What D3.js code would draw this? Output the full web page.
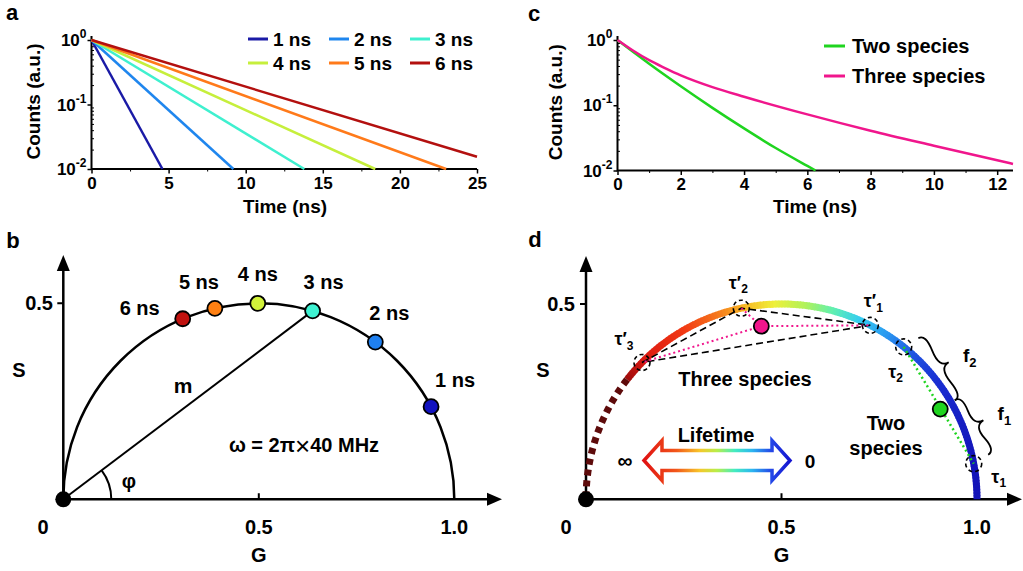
<!DOCTYPE html>
<html>
<head>
<meta charset="utf-8">
<script src="https://cdn.jsdelivr.net/npm/d3@7"></script>
<style>
  body { margin: 0; background: #fff; }
  svg { display: block; font-family: Arial, "Liberation Sans", sans-serif; font-weight: bold; }
</style>
</head>
<body>
<svg id="fig" width="1023" height="571"></svg>
<script>
// ---- panel a : single exponential decays (straight on log axis, so end points are enough)
const decayLabels = ['1 ns', '2 ns', '3 ns', '4 ns', '5 ns', '6 ns'];
const decayEndTime = [4.6, 9.2, 13.8, 18.4, 23.0, 25];
const decayEndCounts = [0.01, 0.01, 0.01, 0.01, 0.01, 0.0155];
const timeTicksA = [0, 5, 10, 15, 20, 25];
const countTicks = [0.01, 0.1, 1];

// ---- panel c : mixtures
const twoTime = [0, 0.5, 1, 2, 3, 4, 5, 6, 6.26];
const twoCounts = [1, 0.653, 0.431, 0.195, 0.0912, 0.0442, 0.0221, 0.01175, 0.01];
const threeTime = [0, 0.5, 1, 1.5, 2, 3, 4, 6, 8, 10, 12.5];
const threeCounts = [1, 0.684, 0.49, 0.372, 0.288, 0.19, 0.135, 0.0724, 0.0407, 0.024, 0.0126];
const timeTicksC = [0, 2, 4, 6, 8, 10, 12];
const mixLabels = ['Two species', 'Three species'];

// ---- panel b : phasor positions of the single lifetimes
const phasorG = [0.9406, 0.798, 0.6376, 0.4974, 0.3877, 0.3054];
const phasorS = [0.2364, 0.401, 0.4807, 0.5, 0.4872, 0.4606];

// ---- panel d : components and mixtures
const compNames = ['τ', 'τ', 'τ′', 'τ′', 'τ′'];
const compSubs = ['1', '2', '1', '2', '3'];
const compG = [0.9916, 0.8125, 0.7271, 0.3972, 0.1432];
const compS = [0.0913, 0.3903, 0.4454, 0.4893, 0.3503];
const mixG = [0.906, 0.4484];
const mixS = [0.231, 0.4432];

const jet = ['#1a1aa6', '#1f86ee', '#3ff0cf', '#c6ef3c', '#ff7a1a', '#b3100f'];
const dotJet = ['#1212c0', '#1f80f0', '#3ef2d2', '#d2f23a', '#ff8012', '#c0120f'];
const mixColors = ['#1fd41f', '#f0168c'];

const svg = d3.select('#fig');

function label(g, x, y, s, size, anchor) {
  return g.append('text')
    .attr('x', x).attr('y', y)
    .attr('font-size', size)
    .attr('text-anchor', anchor || 'middle')
    .attr('dominant-baseline', 'central')
    .text(s);
}

function withIndex(g, x, y, base, idx, size) {
  const t = label(g, x, y, base, size);
  t.append('tspan')
    .attr('font-size', Math.round(size * 0.68))
    .attr('dy', size * 0.35)
    .text(idx);
  return t;
}

// panel letters
[['a', 12, 12], ['b', 13, 240], ['c', 534, 13], ['d', 535, 239]].forEach(p => {
  label(svg, p[1], p[2], p[0], 22);
});

// ------------------------------------------------------------ decay panels
function decayPanel(x, y, major, minor, titleX, countX) {
  const g = svg.append('g');
  const [x0, x1] = x.range();
  const yb = y.range()[0];

  g.append('g')
    .attr('transform', `translate(0,${yb})`)
    .call(d3.axisBottom(x).tickValues(minor).tickSize(2.5).tickFormat(''))
    .call(a => a.select('.domain').remove());

  g.append('g')
    .attr('transform', `translate(0,${yb})`)
    .call(d3.axisBottom(x).tickValues(major).tickSize(4.5).tickPadding(3).tickSizeOuter(0))
    .call(a => a.select('.domain').remove())
    .call(a => a.selectAll('line').attr('stroke-width', 1.5))
    .attr('font-family', null)
    .attr('font-size', 17)
    .call(a => a.selectAll('text').attr('fill', '#000'));

  const minorY = [];
  [0.01, 0.1].forEach(d => { for (let k = 2; k < 10; k++) minorY.push(d * k); });
  g.append('g')
    .attr('transform', `translate(${x0},0)`)
    .call(d3.axisRight(y).tickValues(minorY).tickSize(2.5).tickFormat(''))
    .call(a => a.select('.domain').remove());
  g.append('g')
    .attr('transform', `translate(${x0},0)`)
    .call(d3.axisLeft(y).tickValues(countTicks).tickSize(4).tickFormat(''))
    .call(a => a.select('.domain').remove())
    .call(a => a.selectAll('line').attr('stroke-width', 1.5));

  countTicks.forEach(v => {
    const t = g.append('text')
      .attr('x', x0 - 5).attr('y', y(v) + 6)
      .attr('font-size', 17).attr('text-anchor', 'end')
      .text('10');
    t.append('tspan').attr('font-size', 12).attr('dy', -8)
      .text(String(Math.round(Math.log10(v))));
  });

  g.append('path')
    .attr('d', `M${x0},${y.range()[1] - 4}V${yb}H${x1}`)
    .attr('fill', 'none').attr('stroke', '#000').attr('stroke-width', 2);

  label(g, titleX, 206, 'Time (ns)', 19);
  label(g, 0, 0, 'Counts (a.u.)', 19)
    .attr('transform', `translate(${countX},${(yb + y.range()[1]) / 2 - 3}) rotate(-90)`);
  return g;
}

// panel a
const xA = d3.scaleLinear().domain([0, 25]).range([91.5, 477]);
const yA = d3.scaleLog().domain([0.01, 1]).range([169, 40]);
const gA = decayPanel(xA, yA, timeTicksA, d3.range(2.5, 25, 5), 285, 33);
const lineA = d3.line().x(d => xA(d[0])).y(d => yA(d[1]));
decayLabels.forEach((name, i) => {
  gA.append('path')
    .attr('d', lineA([[0, 1], [decayEndTime[i], decayEndCounts[i]]]))
    .attr('fill', 'none').attr('stroke', jet[i]).attr('stroke-width', 2.5);
  const lx = 248 + (i % 3) * 81, ly = 39 + Math.floor(i / 3) * 24;
  gA.append('line').attr('x1', lx).attr('x2', lx + 20).attr('y1', ly).attr('y2', ly)
    .attr('stroke', jet[i]).attr('stroke-width', 3);
  label(gA, lx + 25, ly, name, 19, 'start');
});

// panel c
const xC = d3.scaleLinear().domain([0, 12.5]).range([617.5, 1013]);
const yC = d3.scaleLog().domain([0.01, 1]).range([170.5, 40]);
const gC = decayPanel(xC, yC, timeTicksC, d3.range(1, 13, 2), 815, 555);
const lineC = d3.line().x(d => xC(d[0])).y(d => yC(d[1])).curve(d3.curveMonotoneX);
[[twoTime, twoCounts], [threeTime, threeCounts]].forEach((s, i) => {
  gC.append('path')
    .attr('d', lineC(s[0].map((t, k) => [t, s[1][k]])))
    .attr('fill', 'none').attr('stroke', mixColors[i]).attr('stroke-width', 2.5);
  const ly = 46 + i * 30;
  gC.append('line').attr('x1', 824).attr('x2', 845).attr('y1', ly).attr('y2', ly)
    .attr('stroke', mixColors[i]).attr('stroke-width', 3);
  label(gC, 852, ly, mixLabels[i], 20, 'start');
});

// ------------------------------------------------------------ phasor panels
function phasorAxes(gs, ss, xTip, yTip, labX0, yLabX, sLabX) {
  const g = svg.append('g');
  const ox = gs(0), oy = ss(0);
  g.append('path').attr('d', `M${ox},${oy}H${xTip - 12}M${ox},${oy}V${yTip + 14}`)
    .attr('stroke', '#000').attr('stroke-width', 2.5);
  g.append('path').attr('d', `M${xTip},${oy}l-15,-6.5v13z`);
  g.append('path').attr('d', `M${ox},${yTip}l-6.5,16h13z`);
  g.append('path').attr('d', `M${gs(0.5)},${oy}v-6M${ox},${ss(0.5)}h-6`)
    .attr('stroke', '#000').attr('stroke-width', 2);
  label(g, labX0, 527, '0', 20);
  label(g, gs(0.5), 527, '0.5', 20);
  label(g, gs(1), 527, '1.0', 20);
  label(g, gs(0.5), 555, 'G', 20);
  label(g, sLabX, 370, 'S', 20);
  label(g, yLabX, ss(0.5), '0.5', 20, 'end');
  return g;
}

// panel b
const gB = d3.scaleLinear().domain([0, 1]).range([63.3, 454.3]);
const sB = d3.scaleLinear().domain([0, 0.5]).range([499.3, 303.3]);
const pB = phasorAxes(gB, sB, 502, 255, 43, 53, 19);
const rB = gB(0.5) - gB(0);
pB.append('path')
  .attr('d', `M${gB(1)},${sB(0)}A${rB},${sB(0) - sB(0.5)} 0 0 0 ${gB(0)},${sB(0)}`)
  .attr('fill', 'none').attr('stroke', '#000').attr('stroke-width', 2.5);
// modulation line to the 3 ns point and phase angle
const mx = gB(phasorG[2]), my = sB(phasorS[2]);
pB.append('line').attr('x1', gB(0)).attr('y1', sB(0)).attr('x2', mx).attr('y2', my)
  .attr('stroke', '#000').attr('stroke-width', 2);
const phi = Math.atan2(phasorS[2], phasorG[2]);
pB.append('path')
  .attr('d', `M${gB(0) + 48},${sB(0)}A48,48 0 0 0 ${gB(0) + 48 * Math.cos(phi)},${sB(0) - 48 * Math.sin(phi)}`)
  .attr('fill', 'none').attr('stroke', '#000').attr('stroke-width', 2);
label(pB, 183, 385, 'm', 21);
label(pB, 129, 481, 'φ', 20);
const omega = label(pB, 304, 445, 'ω = 2π', 20);
omega.append('tspan').attr('font-weight', 'normal').attr('font-size', 26).attr('dy', 1).text('×');
omega.append('tspan').attr('dy', -1).text('40 MHz');
pB.append('circle').attr('cx', gB(0)).attr('cy', sB(0)).attr('r', 8);

const labelOffB = [[24, -27], [14, -29], [11, -29], [0, -29], [-16, -26], [-43, -11]];
decayLabels.forEach((name, i) => {
  const cx = gB(phasorG[i]), cy = sB(phasorS[i]);
  pB.append('circle').attr('cx', cx).attr('cy', cy).attr('r', 7.5)
    .attr('fill', dotJet[i]).attr('stroke', '#000').attr('stroke-width', 1.8);
  label(pB, cx + labelOffB[i][0], cy + labelOffB[i][1], name, 20);
});

// panel d
const gD = d3.scaleLinear().domain([0, 1]).range([586, 977]);
const sD = d3.scaleLinear().domain([0, 0.5]).range([499.3, 304]);
const pD = phasorAxes(gD, sD, 1022, 256, 566, 575, 543);

const arcStops = [0.105, 0.15, 0.25, 0.33, 0.40, 0.48, 0.56, 0.63, 0.70, 0.77, 0.83, 0.9, 1.0];
const arcColors = ['#a00c0c', '#dc1a12', '#f23a14', '#f5741c', '#f9b424', '#eef03a', '#b0f25a',
  '#60f0b0', '#34ccf2', '#2a96f0', '#2058e2', '#1a2ed2', '#1414b8'];
const arcColor = d3.scaleLinear().domain(arcStops).range(arcColors).interpolate(d3.interpolateRgb);
const arcPt = th => [gD(0.5 + 0.5 * Math.cos(th)), sD(0.5 * Math.sin(th))];
const thStart = Math.acos((0.105 - 0.5) / 0.5);
const nSeg = 160;
for (let k = 0; k < nSeg; k++) {
  const a0 = thStart * k / nSeg, a1 = thStart * (k + 1.3) / nSeg;
  const p0 = arcPt(a0), p1 = arcPt(Math.min(a1, thStart));
  pD.append('line').attr('x1', p0[0]).attr('y1', p0[1]).attr('x2', p1[0]).attr('y2', p1[1])
    .attr('stroke', arcColor(0.5 + 0.5 * Math.cos((a0 + a1) / 2)))
    .attr('stroke-width', 7);
}
const tail = d3.range(thStart, Math.PI + 0.001, 0.01).map(arcPt);
pD.append('path').attr('d', d3.line()(tail))
  .attr('fill', 'none').attr('stroke', '#5e0b0b').attr('stroke-width', 7)
  .attr('stroke-dasharray', '6 5');

// three-species triangle and mixture links
const cp = compG.map((v, i) => [gD(v), sD(compS[i])]);
const mp = mixG.map((v, i) => [gD(v), sD(mixS[i])]);
pD.append('path').attr('d', `M${cp[4]}L${cp[3]}L${cp[2]}Z`)
  .attr('fill', 'none').attr('stroke', '#000').attr('stroke-width', 1.6)
  .attr('stroke-dasharray', '7 4');
[2, 3, 4].forEach(i => {
  pD.append('line').attr('x1', mp[1][0]).attr('y1', mp[1][1]).attr('x2', cp[i][0]).attr('y2', cp[i][1])
    .attr('stroke', mixColors[1]).attr('stroke-width', 2).attr('stroke-dasharray', '2 3');
});
pD.append('line').attr('x1', cp[1][0]).attr('y1', cp[1][1]).attr('x2', cp[0][0]).attr('y2', cp[0][1])
  .attr('stroke', mixColors[0]).attr('stroke-width', 2.5).attr('stroke-dasharray', '2 3');

mp.forEach((p, i) => {
  pD.append('circle').attr('cx', p[0]).attr('cy', p[1]).attr('r', 7.5)
    .attr('fill', mixColors[i]).attr('stroke', '#000').attr('stroke-width', 1.8);
});
const labelOffD = [[25, 13], [-8, 25], [3, -24], [-3, -25], [-18, -23]];
cp.forEach((p, i) => {
  pD.append('circle').attr('cx', p[0]).attr('cy', p[1]).attr('r', 8)
    .attr('fill', 'none').attr('stroke', '#000').attr('stroke-width', 1.6)
    .attr('stroke-dasharray', '4 3');
  withIndex(pD, p[0] + labelOffD[i][0], p[1] + labelOffD[i][1], compNames[i], compSubs[i], 18);
});

// fraction braces alongside the two-species segment
function brace(x1, y1, x2, y2, w, q) {
  const len = Math.hypot(x1 - x2, y1 - y2);
  const dx = (x1 - x2) / len, dy = (y1 - y2) / len;
  const qx1 = x1 + q * w * dy, qy1 = y1 - q * w * dx;
  const qx2 = (x1 - 0.25 * len * dx) + (1 - q) * w * dy, qy2 = (y1 - 0.25 * len * dy) - (1 - q) * w * dx;
  const tx = (x1 - 0.5 * len * dx) + w * dy, ty = (y1 - 0.5 * len * dy) - w * dx;
  const qx3 = x2 + q * w * dy, qy3 = y2 - q * w * dx;
  const qx4 = (x1 - 0.75 * len * dx) + (1 - q) * w * dy, qy4 = (y1 - 0.75 * len * dy) - (1 - q) * w * dx;
  return `M${x1},${y1}Q${qx1},${qy1} ${qx2},${qy2}T${tx},${ty}M${x2},${y2}Q${qx3},${qy3} ${qx4},${qy4}T${tx},${ty}`;
}
function offsetChord(a, b, off) {
  const len = Math.hypot(b[0] - a[0], b[1] - a[1]);
  const nx = (b[1] - a[1]) / len, ny = -(b[0] - a[0]) / len;
  return [[a[0] + nx * off, a[1] + ny * off], [b[0] + nx * off, b[1] + ny * off], [nx, ny]];
}
[[cp[1], mp[0], '2'], [mp[0], cp[0], '1']].forEach(s => {
  const [top, bot, n] = offsetChord(s[0], s[1], 17);
  pD.append('path').attr('d', brace(bot[0], bot[1], top[0], top[1], 14, 0.6))
    .attr('fill', 'none').attr('stroke', '#000').attr('stroke-width', 1.8);
  const cx = (top[0] + bot[0]) / 2 + n[0] * 14, cy = (top[1] + bot[1]) / 2 + n[1] * 14;
  withIndex(pD, cx + 21, cy - 7, 'f', s[2], 19);
});

label(pD, 745, 379, 'Three species', 20);
label(pD, 886, 423, 'Two', 20);
label(pD, 886, 448, 'species', 20);
label(pD, 716, 435, 'Lifetime', 20);
label(pD, 625, 460, '∞', 21);
label(pD, 810, 461, '0', 19);

// lifetime double arrow
const grad = svg.append('defs').append('linearGradient').attr('id', 'life')
  .attr('gradientUnits', 'userSpaceOnUse').attr('x1', 644).attr('x2', 790).attr('y1', 0).attr('y2', 0);
[['0', '#e01212'], ['0.22', '#f2561a'], ['0.38', '#f7c62a'], ['0.5', '#b8ee4a'],
 ['0.62', '#44ecc0'], ['0.74', '#2cb6f0'], ['0.87', '#2448e8'], ['1', '#1414d0']].forEach(s => {
  grad.append('stop').attr('offset', s[0]).attr('stop-color', s[1]);
});
const L = 644, R = 790, cy = 460.5, hd = 18, h = 20, sh = 10;
pD.append('path')
  .attr('d', `M${L},${cy}L${L + hd},${cy - h}V${cy - sh}H${R - hd}V${cy - h}L${R},${cy}L${R - hd},${cy + h}V${cy + sh}H${L + hd}V${cy + h}Z`)
  .attr('fill', '#fff').attr('stroke', 'url(#life)').attr('stroke-width', 3.5);

pD.append('circle').attr('cx', gD(0)).attr('cy', sD(0)).attr('r', 8);
</script>
</body>
</html>
